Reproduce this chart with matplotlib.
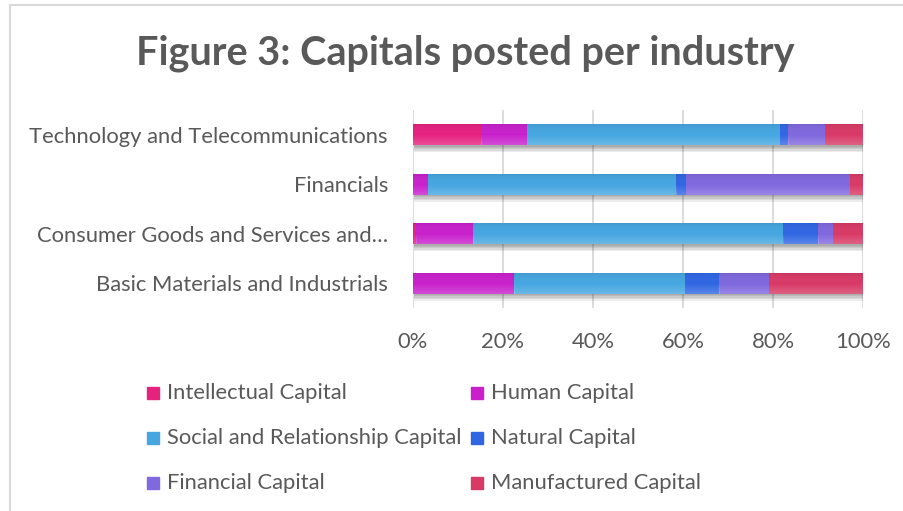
import matplotlib
matplotlib.use("Agg")
import numpy as np
import matplotlib.pyplot as plt
import matplotlib.patheffects as pe
from matplotlib.patches import Rectangle
from matplotlib.lines import Line2D
from matplotlib.colors import LinearSegmentedColormap

plt.rcParams['font.family'] = ['Lato', 'DejaVu Sans']

industries = ["Basic Materials and Industrials",
              "Consumer Goods and Services and\u2026",
              "Financials",
              "Technology and Telecommunications"]

capitals = ["Intellectual Capital", "Human Capital",
            "Social and Relationship Capital", "Natural Capital",
            "Financial Capital", "Manufactured Capital"]

# share of each capital per industry (%), same order as industries
intellectual = [0.0, 0.7, 0.0, 15.2]
human = [22.5, 12.7, 3.3, 10.2]
social = [38.0, 68.9, 55.2, 56.2]
natural = [7.6, 7.8, 2.2, 1.8]
financial = [11.1, 3.3, 36.4, 8.2]
manufactured = [20.8, 6.6, 2.9, 8.4]

series = [intellectual, human, social, natural, financial, manufactured]
colors = ["#E6227F", "#C821CC", "#45A6E0", "#3166E3", "#8068DE", "#D83A66"]

ticks = [0, 20, 40, 60, 80, 100]
tick_labels = ["0%", "20%", "40%", "60%", "80%", "100%"]

text_color = "#595959"
grid_color = "#D9D9D9"

W, H = 904, 511
fig = plt.figure(figsize=(W / 100, H / 100), dpi=100)

# chart frame lines (left and top)
fig.add_artist(Line2D([9.5 / W, 9.5 / W], [0, 1 - 5.5 / H], color=grid_color, lw=1.5))
fig.add_artist(Line2D([9.5 / W, 1], [1 - 5.5 / H, 1 - 5.5 / H], color=grid_color, lw=1.5))

ax_left, ax_right = 413 / W, 863 / W
ax_top, ax_bot = 110 / H, 308 / H
ax = fig.add_axes([ax_left, 1 - ax_bot, ax_right - ax_left, ax_bot - ax_top])

# soft drop shadow built from a few faint offset copies
shadow = [pe.SimplePatchShadow(offset=(1, -d), shadow_rgbFace="#000000", alpha=0.075)
          for d in (1, 2, 3, 4, 5)] + [pe.Normal()]

# light-to-dark vertical sheen laid over every segment
sheen = LinearSegmentedColormap.from_list(
    "sheen", [(1, 1, 1, 0.2), (1, 1, 1, 0.0), (0, 0, 0, 0.07)])
grad = np.linspace(0, 1, 64).reshape(-1, 1)

ypos = list(range(len(industries)))
left = [0.0] * len(industries)
bar_h = 0.42
for vals, col, name in zip(series, colors, capitals):
    bars = ax.barh(ypos, vals, left=left, height=bar_h, color=col, label=name,
                   zorder=3)
    for b in bars:
        b.set_path_effects(shadow)
        if b.get_width() > 0:
            x0, y0 = b.get_x(), b.get_y()
            ax.imshow(grad, cmap=sheen, aspect="auto", interpolation="bilinear",
                      extent=(x0, x0 + b.get_width(), y0 + bar_h, y0),
                      zorder=3.5)
    left = [l + v for l, v in zip(left, vals)]

ax.set_xlim(0, 100)
ax.set_ylim(-0.5, len(industries) - 0.5)
ax.set_xticks(ticks)
ax.set_xticklabels(tick_labels)
ax.set_yticks(ypos)
ax.set_yticklabels(industries)
ax.tick_params(axis="both", length=0, colors=text_color, labelsize=15.8)
ax.tick_params(axis="x", pad=17)
ax.tick_params(axis="y", pad=18)
ax.xaxis.grid(True, color=grid_color, lw=1.3, zorder=0)
ax.set_axisbelow(True)
for s in ax.spines.values():
    s.set_visible(False)

fig.text(465 / W, 1 - 53 / H, "Figure 3: Capitals posted per industry",
         ha="center", va="center", fontsize=28.5, fontweight="bold",
         color=text_color)

# legend, two entries per row
col_x = [147, 471]
row_y = [393, 438, 483]
sq = 12
for i, (name, col) in enumerate(zip(capitals, colors)):
    r, c = divmod(i, 2)
    x, y = col_x[c], row_y[r]
    fig.add_artist(Rectangle((x / W, 1 - (y + sq / 2) / H), sq / W, sq / H,
                             color=col, transform=fig.transFigure))
    fig.text((x + sq + 8) / W, 1 - y / H, name, ha="left", va="center",
             fontsize=15.8, color=text_color)

fig.savefig("out.png", dpi=100)
